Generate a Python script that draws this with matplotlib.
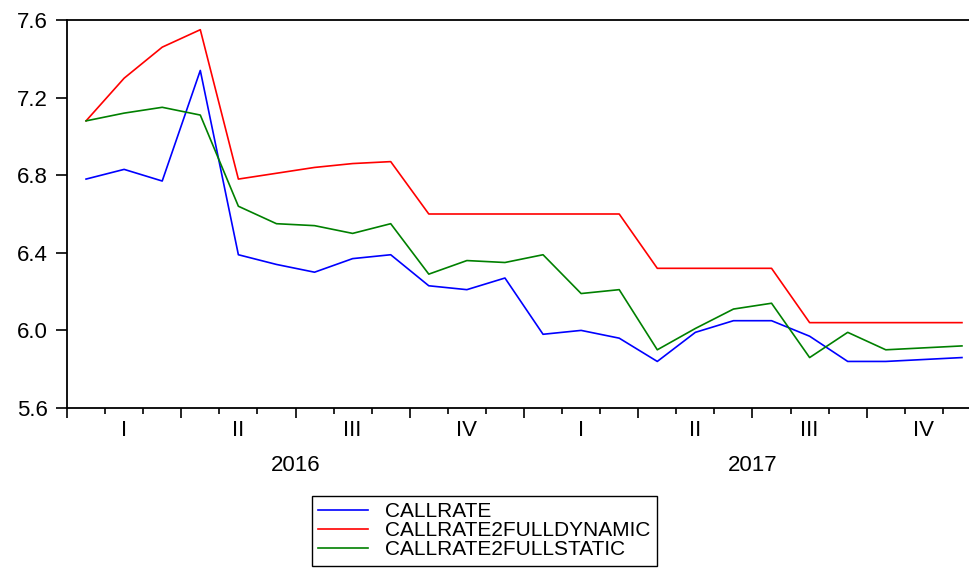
# EViews風の月次予測比較グラフ
import matplotlib.pyplot as plt
import numpy as np

plt.rcParams['font.family'] = ['Liberation Sans', 'DejaVu Sans']

# 2016年1月〜2017年12月 (月次)
callrate = [6.78, 6.83, 6.77, 7.34, 6.39, 6.34, 6.30, 6.37, 6.39, 6.23, 6.21, 6.27,
            5.98, 6.00, 5.96, 5.84, 5.99, 6.05, 6.05, 5.97, 5.84, 5.84, 5.85, 5.86]
callrate_dynamic = [7.08, 7.30, 7.46, 7.55, 6.78, 6.81, 6.84, 6.86, 6.87, 6.60, 6.60, 6.60,
                    6.60, 6.60, 6.60, 6.32, 6.32, 6.32, 6.32, 6.04, 6.04, 6.04, 6.04, 6.04]
callrate_static = [7.08, 7.12, 7.15, 7.11, 6.64, 6.55, 6.54, 6.50, 6.55, 6.29, 6.36, 6.35,
                   6.39, 6.19, 6.21, 5.90, 6.01, 6.11, 6.14, 5.86, 5.99, 5.90, 5.91, 5.92]
series_names = ['CALLRATE', 'CALLRATE2FULLDYNAMIC', 'CALLRATE2FULLSTATIC']
quarter_labels = ['I', 'II', 'III', 'IV', 'I', 'II', 'III', 'IV']
year_labels = ['2016', '2017']
yticks = [5.6, 6.0, 6.4, 6.8, 7.2, 7.6]

W, H = 970, 568
fig = plt.figure(figsize=(W / 100, H / 100), dpi=100)
# 右端は画像の外まではみ出している
ax = fig.add_axes([67 / W, (H - 408) / H, 914 / W, 388 / H])

x = np.arange(len(callrate)) + 0.5  # 各月の中央
ax.plot(x, callrate, color='#0000ff', lw=1.2, label=series_names[0])
ax.plot(x, callrate_dynamic, color='#ff0000', lw=1.2, label=series_names[1])
ax.plot(x, callrate_static, color='#008000', lw=1.2, label=series_names[2])

ax.set_xlim(0, len(callrate))
ax.set_ylim(5.6, 7.6)
ax.set_yticks(yticks)
ax.set_yticklabels([f'{v:.1f}' for v in yticks])

# 四半期の区切りは長い目盛り、月の区切りは短い目盛り
ax.set_xticks(np.arange(0, len(callrate) + 1, 3))
ax.set_xticks(np.arange(0, len(callrate) + 1), minor=True)
ax.set_xticklabels([])
ax.tick_params(axis='x', which='major', direction='out', length=7, width=1.2)
ax.tick_params(axis='x', which='minor', direction='out', length=4, width=1.2)
ax.tick_params(axis='y', direction='out', length=8, width=1.2, labelsize=16, pad=6)

for s in ax.spines.values():
    s.set_linewidth(1.3)
    s.set_color('black')

tr = ax.get_xaxis_transform()
for i, q in enumerate(quarter_labels):
    ax.text(3 * i + 1.5, -0.059, q, transform=tr, ha='center', va='center', fontsize=16)
for i, yr in enumerate(year_labels):
    ax.text(12 * i + 6, -0.147, yr, transform=tr, ha='center', va='center', fontsize=16)

leg = fig.legend(loc='upper left', bbox_to_anchor=(312 / W, 1 - 496 / H),
                 bbox_transform=fig.transFigure, borderaxespad=0, fontsize=15,
                 fancybox=False, edgecolor='black', framealpha=1,
                 handlelength=2.4, handletextpad=0.8, labelspacing=0.0,
                 borderpad=0.3)
leg.get_frame().set_linewidth(1.0)

fig.savefig('out.png', dpi=100)
